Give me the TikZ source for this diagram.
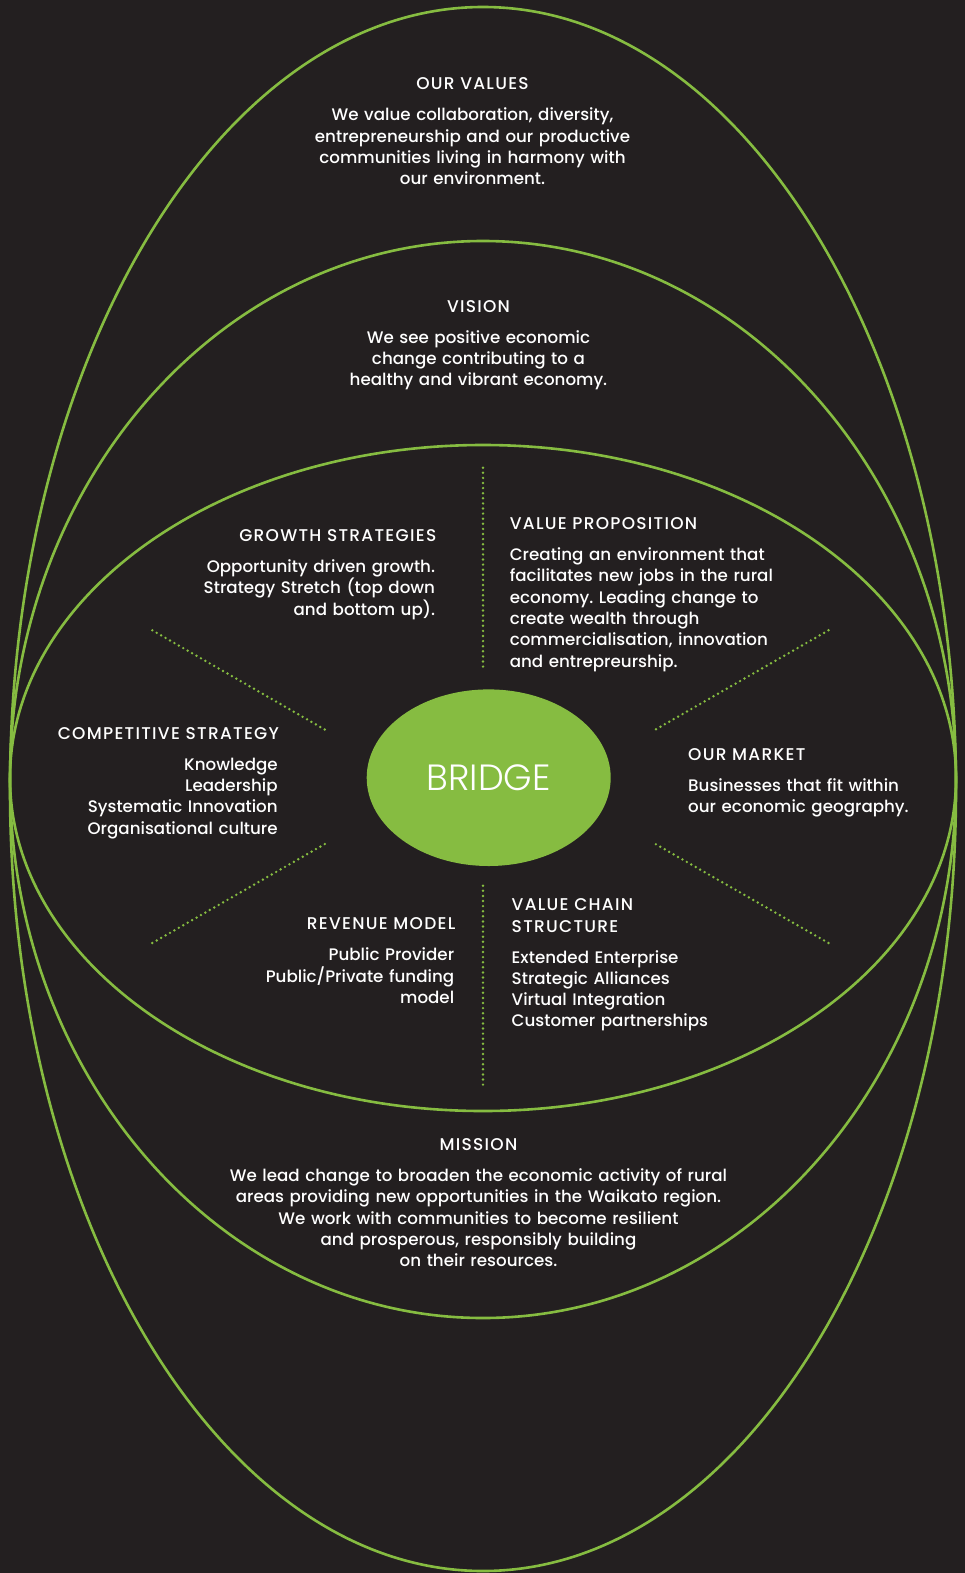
\documentclass[tikz,border=0pt]{standalone}
\usepackage{fontspec}
\setmainfont{Poppins Medium}
\newfontfamily\bridgefont{Poppins Light}
\newfontfamily\headfont{Poppins Medium}[LetterSpace=7.5]
\definecolor{bridgegreen}{RGB}{134,188,65}
\definecolor{bridgedark}{RGB}{35,31,32}
\usetikzlibrary{shapes.geometric}
\frenchspacing

\begin{document}
\begin{tikzpicture}[x=1pt, y=-1pt,
    every node/.style={font=\fontsize{16.7}{21.3}\selectfont, text=white, inner sep=0pt},
    ring/.style={draw=bridgegreen, line width=2.6pt},
    spoke/.style={draw=bridgegreen, line width=2.7pt, line cap=round, dash pattern=on 0pt off 5.1pt},
    block/.style={text width=340pt},
    head/.style={font=\headfont\fontsize{17}{21.3}\selectfont},
    wideblock/.style={text width=600pt, align=center, anchor=base}]
    \useasboundingbox (0,0) rectangle (965,1573);
    \fill[bridgedark] (0,0) rectangle (965,1573);

    % Rings
    \draw[ring] (483,789) ellipse [x radius=473pt, y radius=782pt];
    \draw[ring] (483,779.5) ellipse [x radius=473pt, y radius=538.5pt];
    \draw[ring] (483,778) ellipse [x radius=473pt, y radius=333pt];

    % Centre
    \node[ellipse, fill=bridgegreen, minimum width=244pt, minimum height=176.6pt,
          font=\bridgefont\fontsize{36.5}{40}\selectfont] (bridge) at (488.7,777.7) {BRIDGE};

    % Spokes
    \coordinate (ntop) at (483,467.7);   \coordinate (nbot) at (483,670);
    \coordinate (stop) at (483,885.7);   \coordinate (sbot) at (483,1088.3);
    \coordinate (nwout) at (152.3,630.3); \coordinate (nwin) at (327.3,731);
    \coordinate (swout) at (152.3,943);   \coordinate (swin) at (327.3,842.6);
    \coordinate (neout) at (828.5,630.3); \coordinate (nein) at (653,731);
    \coordinate (seout) at (828.5,943);   \coordinate (sein) at (653,842.6);
    \draw[spoke] (ntop) -- (nbot);
    \draw[spoke] (stop) -- (sbot);
    \draw[spoke] (nwout) -- (nwin);
    \draw[spoke] (swout) -- (swin);
    \draw[spoke] (neout) -- (nein);
    \draw[spoke] (seout) -- (sein);

    % Outer rings
    \node[wideblock, head] (values) at (472.5,90) {OUR VALUES};
    \node[wideblock] (valuestext) at (472.5,121) {We value collaboration, diversity,\\ entrepreneurship and our productive\\ communities living in harmony with\\ our environment.};
    \node[wideblock, head] (vision) at (478.5,312) {VISION};
    \node[wideblock] (visiontext) at (478.5,343) {We see positive economic\\ change contributing to a\\ healthy and vibrant economy.};
    \node[wideblock, head] (mission) at (478.5,1150.5) {MISSION};
    \node[wideblock] (missiontext) at (478.5,1181.5) {We lead change to broaden the economic activity of rural\\ areas providing new opportunities in the Waikato region.\\ We work with communities to become resilient\\ and prosperous, responsibly building\\ on their resources.};

    % Inner quarters
    \node[block, head, align=right, anchor=base east] (growth) at (436.5,541.6) {GROWTH STRATEGIES};
    \node[block, align=right, anchor=base east] (growthtext) at (435.3,572.6) {Opportunity driven growth.\\ Strategy Stretch (top down\\ and bottom up).};
    \node[block, head, align=left, anchor=base west] (proposition) at (509.6,529.6) {VALUE PROPOSITION};
    \node[block, align=left, anchor=base west] (propositiontext) at (509.6,560.6) {Creating an environment that\\ facilitates new jobs in the rural\\ economy. Leading change to\\ create wealth through\\ commercialisation, innovation\\ and entrepreurship.};
    \node[block, head, align=right, anchor=base east] (competitive) at (279.1,739.3) {COMPETITIVE STRATEGY};
    \node[block, align=right, anchor=base east] (competitivetext) at (277.9,770.3) {Knowledge\\ Leadership\\ Systematic Innovation\\ Organisational culture};
    \node[block, head, align=left, anchor=base west] (market) at (688,760.3) {OUR MARKET};
    \node[block, align=left, anchor=base west] (markettext) at (688,791.3) {Businesses that fit within\\ our economic geography.};
    \node[block, head, align=right, anchor=base east] (revenue) at (455.6,929.9) {REVENUE MODEL};
    \node[block, align=right, anchor=base east] (revenuetext) at (454.4,960.9) {Public Provider\\ Public/Private funding\\ model};
    \node[block, head, align=left, anchor=base west] (chain) at (511.5,910.8) {VALUE CHAIN\\ STRUCTURE};
    \node[block, align=left, anchor=base west] (chaintext) at (511.5,963) {Extended Enterprise\\ Strategic Alliances\\ Virtual Integration\\ Customer partnerships};
\end{tikzpicture}
\end{document}
